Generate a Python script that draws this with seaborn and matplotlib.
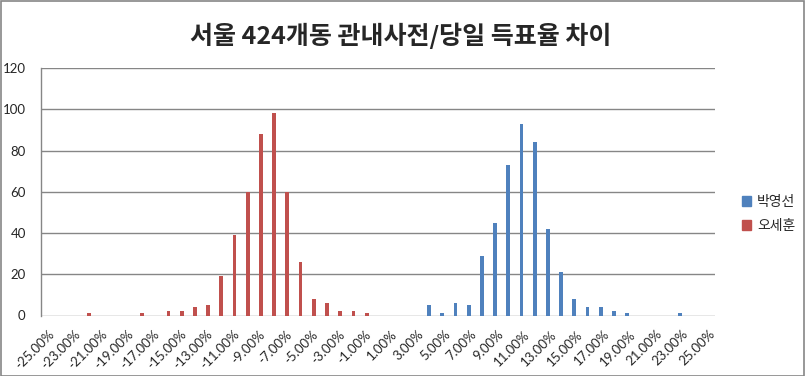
import matplotlib
matplotlib.use('Agg')
import matplotlib.pyplot as plt
import matplotlib.patches as mpatches
import seaborn as sns
import pandas as pd

# ─────────────── 데이터 ───────────────
PCT = list(range(-25, 26))
CATEGORIES = [f'{p:.2f}%' for p in PCT]

PARK = [0] * 29 + [5, 1, 6, 5, 29, 45, 73, 93, 84, 42, 21, 8, 4, 4, 2, 1, 0, 0, 0, 1, 0, 0]
OH = [0, 0, 0, 1, 0, 0, 0, 1, 0, 2, 2, 4, 5, 19, 39, 60, 88, 98, 60, 26, 8, 6, 2, 2, 1] + [0] * 26

SERIES = ['박영선', '오세훈']
COLORS = ['#4F81BD', '#C0504D']
TITLE = '서울 424개동 관내사전/당일 득표율 차이'

df = pd.DataFrame({
    'cat': CATEGORIES * 2,
    'count': PARK + OH,
    'series': [SERIES[0]] * len(PARK) + [SERIES[1]] * len(OH),
})

sns.set_style('white')
plt.rcParams['font.family'] = ['Lato', 'Noto Sans CJK KR', 'DejaVu Sans']

fig = plt.figure(figsize=(8.06, 3.76), dpi=100)
ax = fig.add_axes([41 / 806, 1 - 315.5 / 376, (715 - 41) / 806, (315.5 - 68) / 376])

sns.barplot(data=df, x='cat', y='count', hue='series', order=CATEGORIES,
            hue_order=SERIES, palette=COLORS, width=0.57, dodge=True,
            saturation=1, linewidth=0, ax=ax, legend=False)

ax.set_xlim(-0.5, len(CATEGORIES) - 0.5)
ax.set_ylim(0, 120)
ax.set_yticks(range(0, 121, 20))
ax.grid(axis='y', color='#868686', linewidth=1)
ax.set_axisbelow(True)
for s in ['top', 'right', 'bottom']:
    ax.spines[s].set_visible(False)
ax.spines['left'].set_color('#868686')
ax.spines['left'].set_linewidth(1)

major = list(range(0, len(CATEGORIES), 2))
ax.set_xticks(major)
ax.set_xticklabels([CATEGORIES[i] for i in major], rotation=45, ha='right',
                   rotation_mode='anchor', fontsize=9.5)
ax.tick_params(axis='x', length=0, pad=9)
ax.set_xticks([i - 0.5 for i in range(0, len(CATEGORIES) + 1, 2)], minor=True)
ax.tick_params(axis='x', which='minor', length=4, color='#868686', width=1)
ax.tick_params(axis='y', length=0, labelsize=9.5, pad=11)
ax.set_xlabel('')
ax.set_ylabel('')

fig.text(0.497, 1 - 36 / 376, TITLE, ha='center', va='center', fontsize=18,
         fontweight='bold', family=['Noto Sans CJK KR', 'DejaVu Sans'])

handles = [mpatches.Patch(color=c, label=l) for c, l in zip(COLORS, SERIES)]
fig.legend(handles=handles, loc='center left', bbox_to_anchor=(729 / 806, 1 - 214 / 376),
           frameon=False, prop={'family': 'Noto Sans CJK KR', 'size': 10},
           handlelength=0.7, handleheight=0.7, handletextpad=0.4, labelspacing=0.7)

fig.patches.append(mpatches.Rectangle((0.5 / 806, 0.5 / 376), 803 / 806, 374.5 / 376,
                                      transform=fig.transFigure, fill=False,
                                      edgecolor='#868686', linewidth=1.2))

plt.savefig('out.png', dpi=100, facecolor='white')
